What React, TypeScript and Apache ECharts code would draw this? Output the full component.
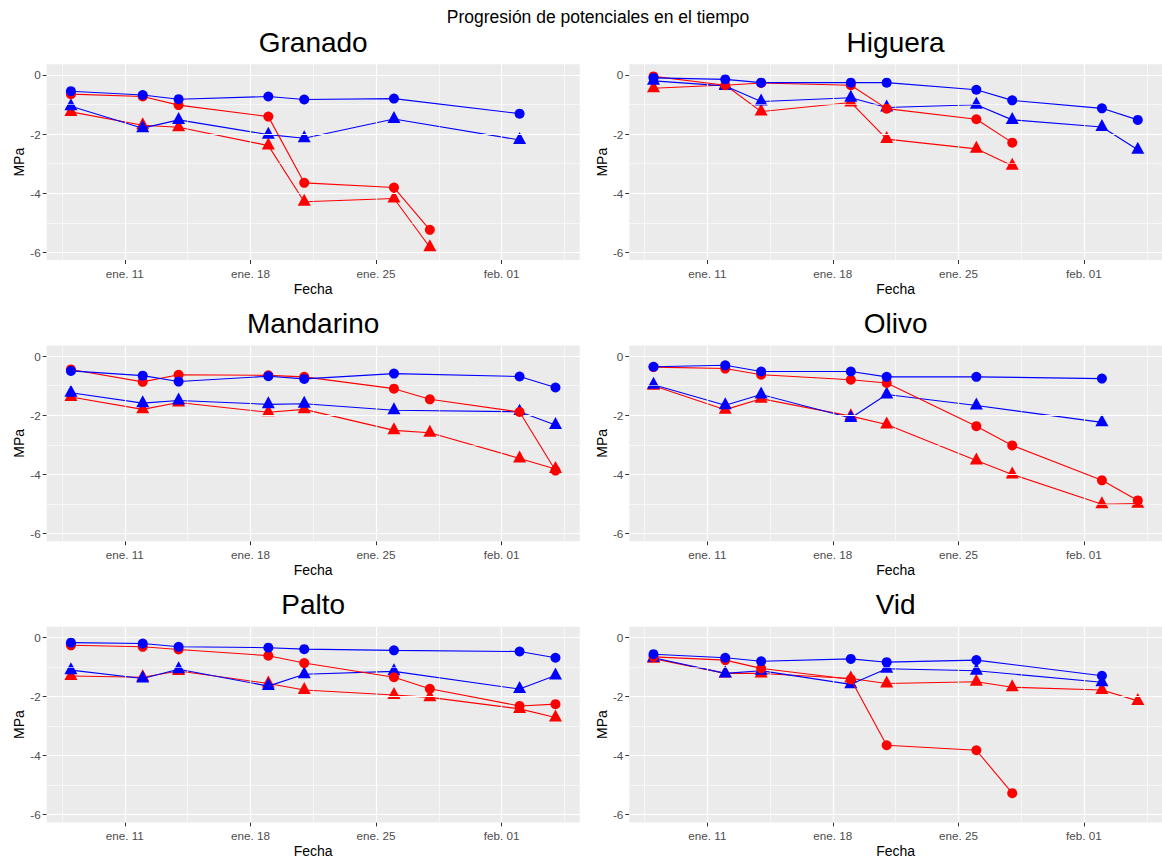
import { useEffect, useRef } from 'react';
import * as echarts from 'echarts';

// Fechas de medición (comunes a todas las especies)
const fechas = [
  '2021-01-08', '2021-01-12', '2021-01-14', '2021-01-19', '2021-01-21',
  '2021-01-26', '2021-01-28', '2021-02-02', '2021-02-04',
];
const marcasFecha = ['2021-01-11', '2021-01-18', '2021-01-25', '2021-02-01'];
const etiquetasFecha = ['ene. 11', 'ene. 18', 'ene. 25', 'feb. 01'];
const marcasMPa = [-6, -4, -2, 0];
const especies = ['Granado', 'Higuera', 'Mandarino', 'Olivo', 'Palto', 'Vid'];

// Potenciales (MPa) por especie; null = sin medición ese día
const granadoAzulCirculo = [-0.55, -0.68, -0.82, -0.73, -0.83, -0.80, null, -1.31, null];
const granadoAzulTriangulo = [-1.06, -1.80, -1.52, -2.02, -2.14, -1.49, null, -2.20, null];
const granadoRojoCirculo = [-0.65, -0.73, -1.02, -1.41, -3.65, -3.81, -5.24, null, null];
const granadoRojoTriangulo = [-1.25, -1.70, -1.77, -2.39, -4.29, -4.18, -5.83, null, null];

const higueraAzulCirculo = [-0.10, -0.15, -0.26, -0.26, -0.26, -0.50, -0.86, -1.13, -1.52];
const higueraAzulTriangulo = [-0.20, -0.37, -0.90, -0.77, -1.10, -1.01, -1.52, -1.76, -2.53];
const higueraRojoCirculo = [-0.05, -0.35, -0.27, -0.35, -1.14, -1.50, -2.29, null, null];
const higueraRojoTriangulo = [-0.45, -0.34, -1.24, -0.93, -2.17, -2.50, -3.07, null, null];

const mandarinoAzulCirculo = [-0.50, -0.66, -0.86, -0.68, -0.77, -0.59, null, -0.69, -1.06];
const mandarinoAzulTriangulo = [-1.24, -1.59, -1.50, -1.63, -1.61, -1.83, null, -1.88, -2.33];
const mandarinoRojoCirculo = [-0.45, -0.87, -0.63, -0.65, -0.70, -1.10, -1.46, -1.89, -3.87];
const mandarinoRojoTriangulo = [-1.38, -1.80, -1.57, -1.90, -1.80, -2.51, -2.59, -3.46, -3.82];

const olivoAzulCirculo = [-0.36, -0.31, -0.52, -0.52, -0.70, -0.70, null, -0.76, null];
const olivoAzulTriangulo = [-0.97, -1.66, -1.30, -2.09, -1.30, -1.67, null, -2.24, null];
const olivoRojoCirculo = [-0.37, -0.42, -0.63, -0.80, -0.91, -2.37, -3.02, -4.20, -4.88];
const olivoRojoTriangulo = [-1.00, -1.81, -1.44, -2.03, -2.31, -3.53, -4.00, -5.01, -4.99];

const paltoAzulCirculo = [-0.18, -0.21, -0.32, -0.35, -0.40, -0.44, null, -0.48, -0.69];
const paltoAzulTriangulo = [-1.11, -1.39, -1.08, -1.65, -1.25, -1.15, null, -1.75, -1.29];
const paltoRojoCirculo = [-0.27, -0.32, -0.41, -0.62, -0.87, -1.35, -1.74, -2.32, -2.26];
const paltoRojoTriangulo = [-1.31, -1.35, -1.14, -1.56, -1.78, -1.95, -2.03, -2.42, -2.71];

const vidAzulCirculo = [-0.57, -0.69, -0.81, -0.73, -0.84, -0.77, null, -1.30, null];
const vidAzulTriangulo = [-0.69, -1.22, -1.13, -1.59, -1.06, -1.13, null, -1.52, null];
const vidRojoCirculo = [-0.66, -0.77, -1.05, -1.42, -3.65, -3.82, -5.27, null, null];
const vidRojoTriangulo = [-0.72, -1.22, -1.22, -1.39, -1.56, -1.50, -1.69, -1.78, -2.15];

// Orden de dibujo: triángulo rojo, triángulo azul, círculo rojo, círculo azul
const seriesPorEspecie: Record<string, (number | null)[][]> = {
  Granado: [granadoRojoTriangulo, granadoAzulTriangulo, granadoRojoCirculo, granadoAzulCirculo],
  Higuera: [higueraRojoTriangulo, higueraAzulTriangulo, higueraRojoCirculo, higueraAzulCirculo],
  Mandarino: [mandarinoRojoTriangulo, mandarinoAzulTriangulo, mandarinoRojoCirculo, mandarinoAzulCirculo],
  Olivo: [olivoRojoTriangulo, olivoAzulTriangulo, olivoRojoCirculo, olivoAzulCirculo],
  Palto: [paltoRojoTriangulo, paltoAzulTriangulo, paltoRojoCirculo, paltoAzulCirculo],
  Vid: [vidRojoTriangulo, vidAzulTriangulo, vidRojoCirculo, vidAzulCirculo],
};

const estilos = [
  { color: '#FF0000', symbol: 'triangle' },
  { color: '#0000FF', symbol: 'triangle' },
  { color: '#FF0000', symbol: 'circle' },
  { color: '#0000FF', symbol: 'circle' },
];

const FONT = '"Liberation Sans", Arial, sans-serif';
const W = 1162;
const H = 863;

// día del año (1 = 1 de enero)
const dia = (iso: string) => (Date.parse(iso) - Date.parse('2021-01-01')) / 864e5 + 1;

function buildOption() {
  const diasDatos = fechas.map(dia);
  const dMin = Math.min(...diasDatos);
  const dMax = Math.max(...diasDatos);
  const expansion = (dMax - dMin) * 0.05;
  const xMin = dMin - expansion;
  const xMax = dMax + expansion;
  const yMin = -6.26;
  const yMax = 0.36;

  const xTicks = marcasFecha.map(dia);
  const xStep = xTicks[1] - xTicks[0];
  const xMinor: number[] = [];
  for (let v = xTicks[0] - xStep / 2; v <= xMax; v += xStep) if (v >= xMin) xMinor.push(v);
  const yMinor: number[] = [];
  for (let i = 0; i < marcasMPa.length - 1; i++) yMinor.push((marcasMPa[i] + marcasMPa[i + 1]) / 2);

  const colLeft = [46.7, 629.3];
  const colWidth = [533, 532.7];
  const rowTop = [64.3, 345.5, 626.7];
  const panelH = 195.7;

  const grid: any[] = [];
  const xAxis: any[] = [];
  const yAxis: any[] = [];
  const series: any[] = [];
  const graphic: any[] = [
    {
      type: 'text',
      x: 598,
      y: 17,
      style: {
        text: 'Progresión de potenciales en el tiempo',
        fill: '#000',
        font: `17.5px ${FONT}`,
        textAlign: 'center',
        textVerticalAlign: 'middle',
      },
    },
  ];

  especies.forEach((nombre, i) => {
    const col = i % 2;
    const row = Math.floor(i / 2);
    const left = colLeft[col];
    const top = rowTop[row];
    const width = colWidth[col];

    grid.push({
      left,
      top,
      width,
      height: panelH,
      show: true,
      backgroundColor: '#EBEBEB',
      borderWidth: 0,
      containLabel: false,
    });

    graphic.push({
      type: 'text',
      x: left + width / 2,
      y: top - 22,
      style: {
        text: nombre,
        fill: '#000',
        font: `28px ${FONT}`,
        textAlign: 'center',
        textVerticalAlign: 'middle',
      },
    });

    xAxis.push({
      type: 'value',
      gridIndex: i,
      min: xMin,
      max: xMax,
      splitLine: { show: false },
      axisLine: { show: false, onZero: false },
      axisTick: {
        show: true,
        customValues: xTicks,
        length: 4,
        lineStyle: { color: '#333333', width: 1 },
      },
      axisLabel: {
        customValues: xTicks,
        formatter: (v: number) => {
          const k = xTicks.findIndex((t) => Math.abs(t - v) < 1e-6);
          return k >= 0 ? etiquetasFecha[k] : '';
        },
        color: '#4D4D4D',
        fontSize: 11.7,
        fontFamily: FONT,
        margin: 7,
      },
      name: 'Fecha',
      nameLocation: 'middle',
      nameGap: 22,
      nameTextStyle: { color: '#000', fontSize: 14, fontFamily: FONT },
    });

    yAxis.push({
      type: 'value',
      gridIndex: i,
      min: yMin,
      max: yMax,
      splitLine: { show: false },
      axisLine: { show: false, onZero: false },
      axisTick: {
        show: true,
        customValues: marcasMPa,
        length: 4,
        lineStyle: { color: '#333333', width: 1 },
      },
      axisLabel: {
        customValues: marcasMPa,
        formatter: (v: number) => String(Math.round(v)),
        color: '#4D4D4D',
        fontSize: 11.7,
        fontFamily: FONT,
        margin: 6,
      },
      name: 'MPa',
      nameLocation: 'middle',
      nameGap: 20,
      nameTextStyle: { color: '#000', fontSize: 14, fontFamily: FONT },
    });

    // Rejilla blanca (mayor y menor) sobre el fondo gris
    const lineaMenor = { color: '#FFFFFF', width: 0.6, type: 'solid' };
    const lineaMayor = { color: '#FFFFFF', width: 1.2, type: 'solid' };
    series.push({
      type: 'line',
      xAxisIndex: i,
      yAxisIndex: i,
      data: [],
      z: 1,
      silent: true,
      markLine: {
        silent: true,
        symbol: ['none', 'none'],
        label: { show: false },
        emphasis: { disabled: true },
        lineStyle: { type: 'solid' },
        data: [
          ...xMinor.map((v) => ({ xAxis: v, lineStyle: lineaMenor })),
          ...yMinor.map((v) => ({ yAxis: v, lineStyle: lineaMenor })),
          ...xTicks.map((v) => ({ xAxis: v, lineStyle: lineaMayor })),
          ...marcasMPa.map((v) => ({ yAxis: v, lineStyle: lineaMayor })),
        ],
      },
    });

    seriesPorEspecie[nombre].forEach((valores, k) => {
      const est = estilos[k];
      const data = valores
        .map((v, j) => (v == null ? null : [dia(fechas[j]), v]))
        .filter((p) => p !== null);
      const esTriangulo = est.symbol === 'triangle';
      series.push({
        type: 'line',
        xAxisIndex: i,
        yAxisIndex: i,
        data,
        z: 3 + k,
        silent: true,
        symbol: est.symbol,
        symbolSize: esTriangulo ? [13, 12] : 10,
        symbolOffset: esTriangulo ? [0, -2] : [0, 0],
        showSymbol: true,
        lineStyle: { color: est.color, width: 1.1 },
        itemStyle: { color: est.color, borderWidth: 0 },
        emphasis: { disabled: true },
      });
    });
  });

  return {
    animation: false,
    backgroundColor: '#FFFFFF',
    textStyle: { fontFamily: FONT },
    grid,
    xAxis,
    yAxis,
    series,
    graphic,
  };
}

export default function App() {
  const ref = useRef<HTMLDivElement>(null);

  useEffect(() => {
    if (!ref.current) return;
    const chart = echarts.init(ref.current, undefined, { renderer: 'svg', width: W, height: H });
    chart.setOption(buildOption() as any);
    return () => chart.dispose();
  }, []);

  return (
    <div
      ref={ref}
      style={{ position: 'fixed', left: 0, top: 0, width: W, height: H, background: '#FFFFFF' }}
    />
  );
}
